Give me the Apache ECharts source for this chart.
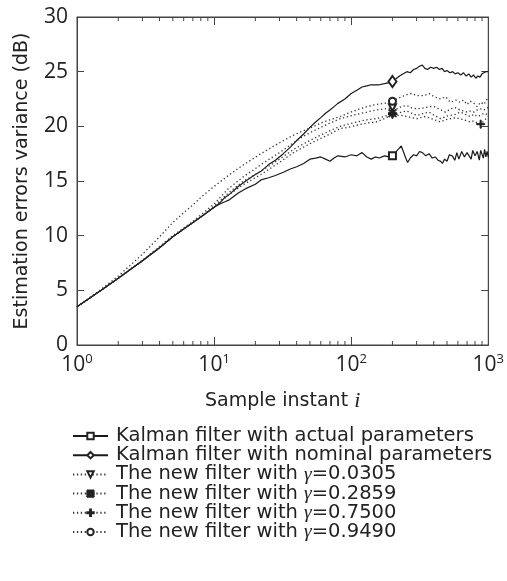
<!DOCTYPE html>
<html><head><meta charset="utf-8">
<script src="https://cdn.jsdelivr.net/npm/echarts@6/dist/echarts.min.js"></script>
<style>html,body{margin:0;padding:0;background:#fff}#c{width:507px;height:581px}</style>
</head><body><div id="c"></div>
<script>
// ---- data ----
const seriesNames = [
  'Kalman filter with actual parameters',
  'Kalman filter with nominal parameters',
  'The new filter with γ=0.0305',
  'The new filter with γ=0.2859',
  'The new filter with γ=0.7500',
  'The new filter with γ=0.9490'
];
const yTicks = [0, 5, 10, 15, 20, 25, 30];
const minorTicks = [2,3,4,5,6,7,8,9,20,30,40,50,60,70,80,90,200,300,400,500,600,700,800,900];

const kalmanX = [1,1.5,2,3,4,5,6,7,8,10,11,12,13,15,17,20,22,25,28,32,36,40,45,50,55,60,65,70,75,80,90,100,110,120,130,140,150,160,175,190,200];
const actualY = [3.5,5.0,6.1,7.7,8.9,9.9,10.6,11.2,11.7,12.6,12.9,13.1,13.3,13.9,14.3,14.7,15.1,15.3,15.5,15.8,16.1,16.3,16.6,17.0,17.1,17.2,17.0,16.8,17.1,17.3,17.2,17.4,17.3,17.6,17.2,17.0,17.2,17.1,17.3,17.2,17.3];
const actualTailX = [210,220,232,240,250,258,270,285,300,315,331,350,370,390,410,430,450,463,480,500,520,546,570,590,610,640,670,700,720,750,770,800,830,860,880,900,920,940,960,980,1000];
const actualTailY = [17.6,17.9,18.2,17.7,17.1,16.7,17.1,17.4,17.3,17.7,17.6,17.3,17.5,17.1,17.2,16.9,16.8,16.6,17.0,16.8,17.4,17.3,16.9,17.6,17.0,17.7,17.2,17.6,17.5,17.0,17.8,17.3,17.7,16.9,17.8,17.8,17.1,17.9,17.2,17.7,17.2];
const nominalY = [3.5,5.0,6.1,7.7,8.9,9.9,10.6,11.2,11.7,12.6,13.0,13.5,13.8,14.5,15.0,15.6,15.9,16.5,16.9,17.5,18.1,18.7,19.3,19.9,20.4,20.8,21.2,21.5,21.8,22.1,22.5,23.0,23.3,23.6,23.7,23.8,23.8,23.8,23.9,24.0,24.1];
const nominalTailX = [210,225,240,255,270,285,300,315,330,345,360,380,400,420,440,460,480,500,525,550,575,600,630,660,690,720,750,780,810,840,870,900,930,960,1000];
const nominalTailY = [24.3,24.6,24.8,25.0,24.9,25.2,25.3,25.5,25.6,25.3,25.2,25.4,25.3,25.4,25.2,25.3,25.0,25.1,24.9,25.0,24.8,24.9,24.7,24.9,24.6,24.8,24.5,24.7,24.4,24.6,24.5,24.8,24.7,25.0,25.0];

const newX = [1,1.5,2,3,4,5,6,7,8,10,12.7,16,22,30,38,45,53.5,60,70,83,95,110,130,152,175,200,215,232,255,275,305,340,370,404,450,488,530,580,620,660,700,740,785,830,880,930,980,1000];
const g0305Y = [3.5,5.0,6.15,7.75,9.0,10.0,10.7,11.3,11.9,12.9,14.3,15.3,16.5,17.6,18.5,19.1,19.6,19.9,20.3,20.7,20.9,21.1,21.3,21.5,21.6,21.7,21.6,21.8,21.9,21.7,21.6,21.7,21.8,21.8,21.5,21.3,21.6,21.7,21.5,21.4,21.3,21.4,21.3,21.5,21.6,21.5,21.7,21.7];
const g2859Y = [3.5,5.0,6.1,7.7,8.9,9.9,10.6,11.2,11.7,12.7,13.9,14.9,15.9,17.0,17.9,18.4,18.9,19.2,19.6,20.0,20.2,20.4,20.6,20.7,20.9,21.2,21.1,21.3,21.4,21.2,21.0,21.2,21.3,21.0,20.7,20.9,21.0,21.1,21.3,21.2,21.0,20.9,21.1,20.9,21.0,21.2,21.1,21.1];
const g7500Y = [3.5,5.0,6.1,7.7,8.9,9.9,10.6,11.2,11.7,12.6,13.7,14.6,15.6,16.7,17.6,18.1,18.6,18.9,19.3,19.8,19.9,20.1,20.3,20.4,20.7,21.1,21.0,21.0,20.9,20.8,20.7,20.9,20.8,20.6,20.4,20.6,20.7,20.8,20.7,20.6,20.5,20.4,20.5,20.3,20.2,20.5,20.8,20.9];
const g9490Y = [3.5,5.1,6.3,8.3,9.9,11.2,12.1,12.8,13.5,14.5,15.5,16.4,17.5,18.5,19.2,19.6,20.0,20.3,20.6,20.9,21.2,21.5,21.8,22.0,22.1,22.3,22.5,22.7,22.9,23.0,22.8,22.8,23.0,22.7,22.5,22.7,22.2,22.4,22.2,22.4,22.0,22.3,22.1,21.8,22.2,22.0,22.5,22.4];

const markerXs = [[200],[200],[200],[200],[200,880],[200]];

// ---- build ----
const pairs = (xs, ys) => xs.map((x, i) => [x, ys[i]]);
const seriesData = [
  pairs(kalmanX.concat(actualTailX), actualY.concat(actualTailY)),
  pairs(kalmanX.concat(nominalTailX), nominalY.concat(nominalTailY)),
  pairs(newX, g0305Y),
  pairs(newX, g2859Y),
  pairs(newX, g7500Y),
  pairs(newX, g9490Y)
];
const asterisk = 'path://M0,4L10,4L10,6L0,6ZM4,0L6,0L6,10L4,10ZM1,0L10,9L9,10L0,1ZM9,0L10,1L1,10L0,9Z';
const plusPath = 'path://M0,4.3L10,4.3L10,5.7L0,5.7ZM4.3,0L5.7,0L5.7,10L4.3,10Z';
const symbols = ['emptyRect','emptyDiamond','emptyTriangle',asterisk,plusPath,'emptyCircle'];
const symSizes = [7,[8,11],7,8,8,7];
const rotations = [0,0,180,0,0,0];
const dashed = [false,false,true,true,true,true];

const txt = '#222';
const fam = '"Open Sans", sans-serif';
const fam2 = '"DejaVu Sans", sans-serif';
const serifIt = '"Liberation Serif", serif';

const series = seriesData.map((d, k) => ({
  name: seriesNames[k],
  type: 'line',
  data: d,
  symbol: symbols[k],
  symbolRotate: rotations[k],
  symbolKeepAspect: true,
  showSymbol: true,
  symbolSize: (v) => markerXs[k].indexOf(v[0]) >= 0 ? symSizes[k] : 0,
  lineStyle: dashed[k] ? {color: '#333', width: 1.3, type: [1.3, 2.6]} : {color: '#1a1a1a', width: 1.2},
  itemStyle: {color: '#222', borderColor: '#222', borderWidth: 1},
  silent: true,
  z: 3
}));

series.push({
  type: 'custom',
  silent: true,
  clip: false,
  z: 5,
  data: minorTicks.map(v => [v, 0]),
  renderItem: (params, api) => {
    const x = api.value(0);
    const b = api.coord([x, 0]);
    const t = api.coord([x, 30]);
    return {type: 'group', children: [
      {type: 'line', shape: {x1: b[0], y1: b[1], x2: b[0], y2: b[1] - 4}, style: {stroke: '#444', lineWidth: 1}},
      {type: 'line', shape: {x1: t[0], y1: t[1], x2: t[0], y2: t[1] + 4}, style: {stroke: '#444', lineWidth: 1}}
    ]};
  }
});

const mkLine = () => ({show: true, onZero: false, lineStyle: {color: '#444', width: 1}});
const legendFmt = n => {
  const i = n.indexOf('γ');
  if (i < 0) return '{n|' + n + '}';
  return '{n|' + n.slice(0, i) + '}{g|γ}{n|' + n.slice(i + 1) + '}';
};
const option = {
  animation: false,
  backgroundColor: '#fff',
  grid: {left: 77, right: 14, top: 17, bottom: 236, show: true, borderColor: '#444', borderWidth: 1, backgroundColor: 'transparent'},
  xAxis: [
    {type: 'log', logBase: 10, min: 1, max: 1000, position: 'bottom',
     axisLine: mkLine(), splitLine: {show: false},
     axisTick: {inside: true, length: 8, lineStyle: {color: '#444'}},
     axisLabel: {margin: 8, color: txt, fontFamily: fam,
       formatter: v => '{b|10}{s|' + Math.round(Math.log10(v)) + '}',
       rich: {b: {fontSize: 21, fontFamily: fam, color: txt, lineHeight: 24},
              s: {fontSize: 13, fontFamily: fam, color: txt, verticalAlign: 'top', lineHeight: 14}}},
     name: 'Sample instant {it|i}', nameLocation: 'middle', nameGap: 45,
     nameTextStyle: {fontSize: 19, fontFamily: fam2, color: txt,
       rich: {it: {fontSize: 22, fontStyle: 'italic', fontFamily: serifIt, color: txt}}}},
    {type: 'log', logBase: 10, min: 1, max: 1000, position: 'top',
     axisLine: mkLine(), splitLine: {show: false},
     axisTick: {inside: true, length: 8, lineStyle: {color: '#444'}},
     axisLabel: {show: false}}
  ],
  yAxis: [
    {type: 'value', min: 0, max: 30, interval: 5, position: 'left',
     axisLine: mkLine(), splitLine: {show: false},
     axisTick: {inside: true, length: 7, lineStyle: {color: '#444'}},
     axisLabel: {margin: 9, color: txt, fontSize: 21, fontFamily: fam,
       formatter: v => yTicks.indexOf(v) >= 0 ? String(v) : ''},
     name: 'Estimation errors variance (dB)', nameLocation: 'middle', nameGap: 45,
     nameTextStyle: {fontSize: 19, fontFamily: fam2, color: txt}},
    {type: 'value', min: 0, max: 30, interval: 5, position: 'right',
     axisLine: mkLine(), splitLine: {show: false},
     axisTick: {inside: true, length: 7, lineStyle: {color: '#444'}},
     axisLabel: {show: false}}
  ],
  legend: {
    orient: 'vertical', left: 72, top: 426, padding: 0,
    itemWidth: 35, itemHeight: 8, itemGap: -0.8,
    data: seriesNames,
    formatter: legendFmt,
    textStyle: {fontSize: 19.5, fontFamily: fam2, color: txt, lineHeight: 18, padding: [0, 0, 0, 3],
      rich: {
        n: {fontSize: 19.5, fontFamily: fam2, color: txt, lineHeight: 18},
        g: {fontSize: 19.5, fontStyle: 'italic', fontFamily: serifIt, color: txt, lineHeight: 18}
      }},
    selectedMode: false
  },
  series
};
const chart = echarts.init(document.getElementById('c'), null, {renderer: 'canvas'});
chart.setOption(option);
</script>
</body></html>
